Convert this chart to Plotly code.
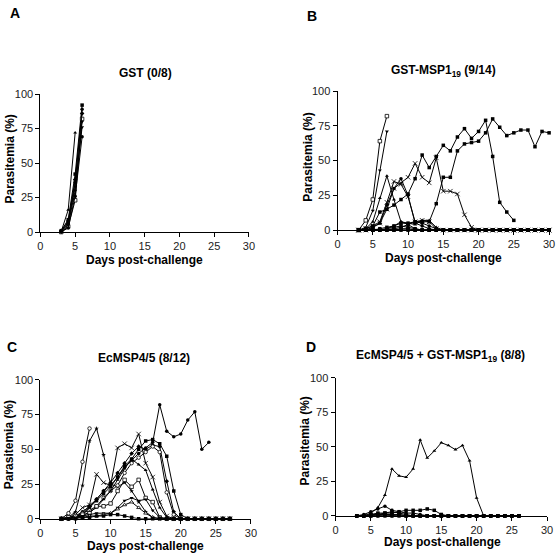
import plotly.graph_objects as go

FIRST_DAY = 3
X_TICKS = [0, 5, 10, 15, 20, 25, 30]
Y_TICKS = [0, 25, 50, 75, 100]

# ---------------- Panel A: GST (0/8) ----------------
gst_1 = [0.5, 16, 72]
gst_2 = [1, 9, 42, 92]
gst_3 = [0.5, 6, 36, 89]
gst_4 = [0, 4, 23, 82]
gst_5 = [0, 5, 30, 80]
gst_6 = [1, 8, 38, 86]
gst_7 = [0, 3, 26, 69]
gst_8 = [0.5, 7, 33, 76]

# ---------------- Panel B: GST-MSP1-19 (9/14) ----------------
msp_1 = [0, 7, 22, 64, 82]
msp_2 = [0, 2, 14, 43, 71]
msp_3 = [0, 1, 6, 23, 39, 22, 6, 4, 1, 0, 0, 0, 0, 0, 0, 0, 0, 0, 0, 0, 0, 0, 0, 0, 0, 0, 0, 0]
msp_4 = [0, 1, 3, 13, 15, 18, 22, 26, 37, 54, 45, 53, 61, 57, 67, 73, 66, 71, 79, 53, 20, 13, 7]
msp_5 = [0, 0, 2, 5, 15, 30, 34, 38, 48, 38, 34, 52, 28, 28, 26, 11, 2, 0, 0, 0, 0, 0, 0, 0, 0, 0, 0, 0]
msp_6 = [0, 0, 0, 1, 2, 3, 5, 5, 6, 6, 6, 19, 38, 38, 57, 62, 63, 64, 70, 80, 74, 68, 70, 72, 72, 60, 71, 70]
msp_7 = [0, 0, 2, 5, 18, 30, 37, 25, 5, 3, 1, 0, 0, 0, 0, 0, 0, 0, 0, 0, 0, 0, 0, 0, 0, 0, 0, 0]
msp_8 = [0, 1, 3, 6, 20, 35, 33, 24, 6, 7, 6, 1, 0, 0, 0, 0, 0, 0, 0, 0, 0, 0, 0, 0, 0, 0, 0, 0]
msp_9 = [0, 0, 0, 0, 1, 3, 6, 5, 4, 7, 7, 2, 0, 0, 0, 0, 0, 0, 0, 0, 0, 0, 0, 0, 0, 0, 0, 0]
msp_10 = [0, 0, 0, 0, 0, 1, 2, 4, 6, 5, 3, 1, 0, 0, 0, 0, 0, 0, 0, 0, 0, 0, 0, 0, 0, 0, 0, 0]
msp_11 = [0, 0, 0, 0, 1, 2, 3, 2, 1, 0, 0, 0, 0, 0, 0, 0, 0, 0, 0, 0, 0, 0, 0, 0, 0, 0, 0, 0]
msp_12 = [0, 0, 0, 0, 0, 0, 1, 1, 0, 0, 0, 0, 0, 0, 0, 0, 0, 0, 0, 0, 0, 0, 0, 0, 0, 0, 0, 0]
msp_13 = [0, 0, 0, 0, 0, 0, 0, 0, 0, 0, 0, 0, 0, 0, 0, 0, 0, 0, 0, 0, 0, 0, 0, 0, 0, 0, 0, 0]
msp_14 = [0, 0, 0, 0, 0, 1, 0, 0, 0, 0, 0, 0, 0, 0, 0, 0, 0, 0, 0, 0, 0, 0, 0, 0, 0, 0, 0, 0]

# ---------------- Panel C: EcMSP4/5 (8/12) ----------------
ec_1 = [0, 4, 13, 41, 65]
ec_2 = [0, 1, 5, 24, 56, 65, 46, 25, 23, 26, 20, 12, 5, 1, 0, 0, 0, 0, 0, 0, 0, 0, 0, 0, 0]
ec_3 = [0, 1, 3, 8, 10, 32, 26, 24, 51, 54, 51, 61, 40, 30, 12, 2, 0, 0, 0, 0, 0, 0, 0, 0, 0]
ec_4 = [0, 0, 2, 5, 9, 14, 20, 24, 30, 37, 42, 47, 51, 55, 82, 63, 59, 61, 71, 77, 50, 55]
ec_5 = [0, 0, 1, 3, 8, 13, 18, 23, 30, 38, 43, 50, 56, 57, 54, 45, 20, 3, 0, 0, 0, 0, 0, 0, 0]
ec_6 = [0, 0, 1, 4, 9, 14, 20, 26, 33, 40, 47, 52, 50, 53, 52, 27, 5, 0, 0, 0, 0, 0, 0, 0, 0]
ec_7 = [0, 1, 2, 4, 6, 9, 15, 20, 24, 33, 40, 44, 48, 52, 48, 19, 3, 0, 0, 0, 0, 0, 0, 0, 0]
ec_8 = [0, 0, 1, 2, 5, 8, 14, 20, 28, 36, 43, 39, 35, 21, 8, 1, 0, 0, 0, 0, 0, 0, 0, 0, 0]
ec_9 = [0, 1, 2, 3, 4, 9, 9, 11, 20, 28, 23, 28, 15, 12, 1, 0, 0, 0, 0, 0, 0, 0, 0, 0, 0]
ec_10 = [0, 0, 1, 2, 3, 4, 4, 4, 8, 13, 15, 13, 14, 6, 1, 0, 0, 0, 0, 0, 0, 0, 0, 0, 0]
ec_11 = [0, 0, 1, 1, 2, 2, 3, 4, 7, 10, 12, 8, 4, 1, 0, 0, 0, 0, 0, 0, 0, 0, 0, 0, 0]
ec_12 = [0, 0, 0, 1, 1, 2, 2, 3, 3, 2, 1, 0, 0, 0, 0, 0, 0, 0, 0, 0, 0, 0, 0, 0, 0]

# ---------------- Panel D: EcMSP4/5 + GST-MSP1-19 (8/8) ----------------
combo_1 = [0, 0, 2, 6, 15, 34, 29, 28, 34, 55, 42, 47, 53, 51, 48, 51, 40, 13, 0, 0, 0, 0, 0, 0]
combo_2 = [0, 1, 3, 5, 7, 4, 3, 2, 2, 1, 0, 0, 0, 0, 0, 0, 0, 0, 0, 0, 0, 0, 0, 0]
combo_3 = [0, 0, 1, 2, 2, 2, 3, 4, 4, 4, 5, 4, 1, 0, 0, 0, 0, 0, 0, 0, 0, 0, 0, 0]
combo_4 = [0, 0, 1, 1, 2, 3, 2, 1, 0, 0, 0, 0, 0, 0, 0, 0, 0, 0, 0, 0, 0, 0, 0, 0]
combo_5 = [0, 0, 0, 1, 1, 1, 1, 0, 0, 0, 0, 0, 0, 0, 0, 0, 0, 0, 0, 0, 0, 0, 0, 0]
combo_6 = [0, 0, 0, 0, 1, 0, 0, 0, 0, 0, 0, 0, 0, 0, 0, 0, 0, 0, 0, 0, 0, 0, 0, 0]
combo_7 = [0, 0, 0, 0, 0, 0, 0, 0, 0, 0, 0, 0, 0, 0, 0, 0, 0, 0, 0, 0, 0, 0, 0, 0]
combo_8 = [0, 0, 0, 0, 0, 0, 1, 0, 0, 0, 0, 0, 0, 0, 0, 0, 0, 0, 0, 0, 0, 0, 0, 0]

panels = [
    ("", [gst_1, gst_2, gst_3, gst_4, gst_5, gst_6, gst_7, gst_8]),
    ("2", [msp_1, msp_2, msp_3, msp_4, msp_5, msp_6, msp_7, msp_8, msp_9, msp_10,
           msp_11, msp_12, msp_13, msp_14]),
    ("3", [ec_1, ec_2, ec_3, ec_4, ec_5, ec_6, ec_7, ec_8, ec_9, ec_10, ec_11, ec_12]),
    ("4", [combo_1, combo_2, combo_3, combo_4, combo_5, combo_6, combo_7, combo_8]),
]

# marker styles (symbol, open?)
STYLES = [
    ("triangle-up", False), ("square", False), ("circle", False), ("square", True),
    ("triangle-down", False), ("x-thin", False), ("diamond", False), ("circle", True),
    ("square", False), ("triangle-up", True), ("star", False), ("cross-thin", False),
    ("square", False), ("circle", False),
]
PANEL_STYLES = [
    [0, 1, 2, 3, 4, 6, 2, 4],
    [3, 4, 0, 1, 5, 8, 2, 5, 0, 2, 1, 8, 12, 13],
    [7, 10, 5, 2, 1, 6, 7, 0, 3, 4, 9, 8],
    [0, 2, 8, 1, 12, 13, 1, 2],
]

FONT = "Liberation Sans, Arial, Helvetica, sans-serif"

fig = go.Figure()
for pi, (suffix, series) in enumerate(panels):
    for si, vals in enumerate(series):
        sym, is_open = STYLES[PANEL_STYLES[pi][si]]
        days = list(range(FIRST_DAY, FIRST_DAY + len(vals)))
        thin = sym.endswith("-thin")
        fig.add_trace(go.Scatter(
            x=days, y=vals, mode="lines+markers",
            xaxis="x" + suffix, yaxis="y" + suffix,
            line=dict(color="black", width=1),
            marker=dict(symbol=sym, size=3.5 if not thin else 4.5,
                        color="white" if is_open else "black",
                        line=dict(color="black", width=0.8 if (is_open or thin) else 0)),
            cliponaxis=False, hoverinfo="skip",
        ))

# panel geometry in pixels: (left, right, top, bottom)
geom = [(38, 250, 90, 231), (340, 555, 87, 229), (38, 252, 382, 524), (338, 553, 380, 521)]
W = H = 560

layout = dict(width=W, height=H, margin=dict(l=0, r=0, t=0, b=0),
              paper_bgcolor="white", plot_bgcolor="white", showlegend=False)
for pi, (l, r, t, b) in enumerate(geom):
    suffix = "" if pi == 0 else str(pi + 1)
    common = dict(showline=True, linecolor="black", linewidth=1, ticks="outside",
                  ticklen=4, tickwidth=1, tickcolor="black", showgrid=False,
                  zeroline=False, tickfont=dict(family=FONT, size=11, color="#222"),
                  fixedrange=True)
    layout["xaxis" + suffix] = dict(domain=[l / W, r / W], range=[0, 30], tickvals=X_TICKS,
                                    anchor="y" + suffix, **common)
    layout["yaxis" + suffix] = dict(domain=[1 - b / H, 1 - t / H], range=[0, 100],
                                    tickvals=Y_TICKS, anchor="x" + suffix, **common)

def ann(text, px, py, size=12, angle=0):
    return dict(text=text, x=px / W, y=1 - py / H, xref="paper", yref="paper",
                xanchor="center", yanchor="middle", showarrow=False, textangle=angle,
                font=dict(family=FONT, size=size, color="black"))

annotations = [
    ann("<b>A</b>", 12, 7, 14), ann("<b>B</b>", 314, 10, 14),
    ann("<b>C</b>", 9, 348, 14), ann("<b>D</b>", 313, 348, 14),
    ann("<b>GST (0/8)</b>", 145, 68),
    ann("<b>GST-MSP1<sub>19</sub> (9/14)</b>", 448, 66),
    ann("<b>EcMSP4/5 (8/12)</b>", 143, 360),
    ann("<b>EcMSP4/5 + GST-MSP1<sub>19</sub> (8/8)</b>", 445, 358),
    ann("<b>Parasitemia (%)</b>", 7, 156, 12, -90),
    ann("<b>Parasitemia (%)</b>", 310, 155, 12, -90),
    ann("<b>Parasitemia (%)</b>", 7, 448, 12, -90),
    ann("<b>Parasitemia (%)</b>", 307, 445, 12, -90),
    ann("<b>Days post-challenge</b>", 144, 260),
    ann("<b>Days post-challenge</b>", 448, 258),
    ann("<b>Days post-challenge</b>", 145, 552),
    ann("<b>Days post-challenge</b>", 447, 548),
]
layout["annotations"] = annotations
fig.update_layout(**layout)
fig.write_html("out.html", config={"displayModeBar": False, "staticPlot": True},
               post_script="document.body.style.margin='0';document.body.style.overflow='hidden';")
